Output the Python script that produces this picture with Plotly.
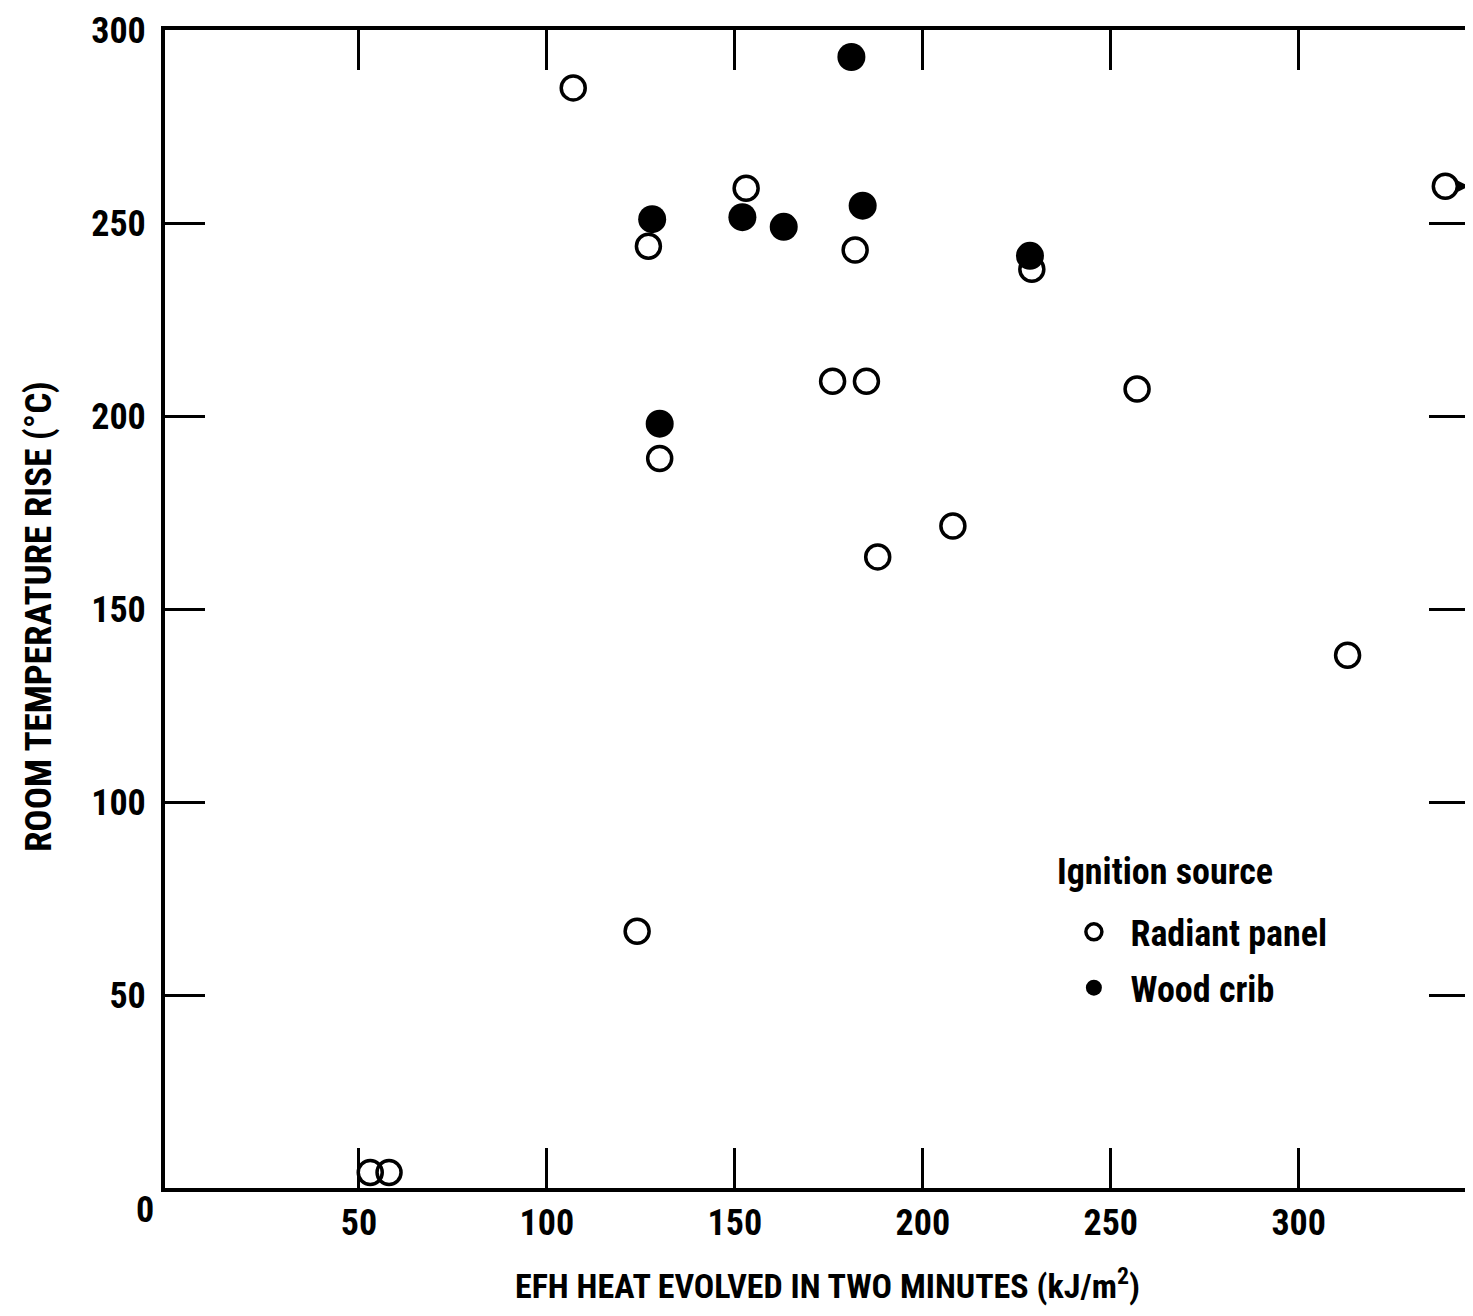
import plotly.graph_objects as go

# Radiant panel (open circles)
radiant_x = [107, 127, 153, 182, 176, 185, 130, 257, 229, 208, 188, 313, 124, 53, 58, 339]
radiant_y = [285, 244, 259, 243, 209, 209, 189, 207, 238, 171.5, 163.5, 138, 66.5, 4, 4, 259.5]

# Wood crib (filled circles)
crib_x = [128, 152, 163, 184, 181, 130, 228.5]
crib_y = [251, 251.5, 249, 254.5, 293, 198, 241.5]

x_ticks = [50, 100, 150, 200, 250, 300]
y_ticks = [50, 100, 150, 200, 250, 300]

FONT = "Roboto Condensed, Noto Sans Condensed, DejaVu Sans Condensed, sans-serif"
NB = "\u00a0"

fig = go.Figure()
fig.add_trace(go.Scatter(
    x=radiant_x, y=radiant_y, mode="markers", name=NB + NB + "Radiant panel",
    legendgroup="a",
    marker=dict(symbol="circle-open", size=24, color="black", line=dict(width=3.5, color="black")),
    cliponaxis=False,
))
fig.add_trace(go.Scatter(
    x=crib_x, y=crib_y, mode="markers", name=NB + NB + "Wood crib",
    legendgroup="b",
    marker=dict(symbol="circle", size=28, color="black", line=dict(width=0)),
    cliponaxis=False,
))

tickfont = dict(family=FONT, size=36, color="black", weight="bold")
axis_common = dict(
    showgrid=False, zeroline=False, showline=True, linecolor="black", linewidth=4,
    ticks="inside", tickcolor="black", tickwidth=3, mirror="allticks",
    tickfont=tickfont, ticklabeloverflow="allow",
)

fig.update_layout(
    width=1465, height=1300,
    margin=dict(l=157, r=0, t=22, b=120),
    paper_bgcolor="white", plot_bgcolor="white",
    font=dict(family=FONT, color="black"),
    xaxis=dict(range=[-1.6, 345.3], tickvals=x_ticks, ticktext=[str(v) for v in x_ticks],
               ticklen=40, ticklabelstandoff=0, **axis_common),
    yaxis=dict(range=[0, 300], tickvals=y_ticks, ticktext=[str(v) for v in y_ticks],
               ticklen=40, ticklabelstandoff=8, **axis_common),
    showlegend=True,
    legend=dict(
        x=0.697, y=0.247, xanchor="left", yanchor="top",
        bgcolor="rgba(0,0,0,0)",
        font=dict(family=FONT, size=36, color="black", weight="bold"),
        itemsizing="trace", tracegroupgap=6,
    ),
)

fig.add_annotation(
    text="<b>ROOM TEMPERATURE RISE (°C)</b>", textangle=-90,
    xref="paper", yref="paper", x=0, y=0.493, xshift=-127,
    xanchor="center", yanchor="middle",
    showarrow=False, font=dict(family=FONT, size=37, color="black"),
)
fig.add_annotation(
    text="<b>EFH HEAT EVOLVED IN TWO MINUTES (kJ/m<sup>2</sup>)</b>",
    xref="paper", yref="paper", x=0.508, y=-0.0825,
    xanchor="center", yanchor="middle",
    showarrow=False, font=dict(family=FONT, size=34, color="black"),
)
fig.add_annotation(
    text="<b>0</b>", xref="paper", yref="paper", x=0, y=0, xshift=-20, yshift=-22,
    xanchor="center", yanchor="middle",
    showarrow=False, font=dict(family=FONT, size=36, color="black"),
)
fig.add_annotation(
    text="<b>Ignition source</b>", xref="paper", yref="paper",
    x=0.6824, y=0.2733, xanchor="left", yanchor="middle",
    showarrow=False, font=dict(family=FONT, size=36, color="black"),
)
# off-scale arrow on the right-most point
fig.add_annotation(
    x=345.3, y=259.5, ax=341.5, ay=259.5, xref="x", yref="y", axref="x", ayref="y",
    showarrow=True, arrowhead=2, arrowsize=0.8, arrowwidth=3, arrowcolor="black", text="",
)

fig.write_html("out.html")
